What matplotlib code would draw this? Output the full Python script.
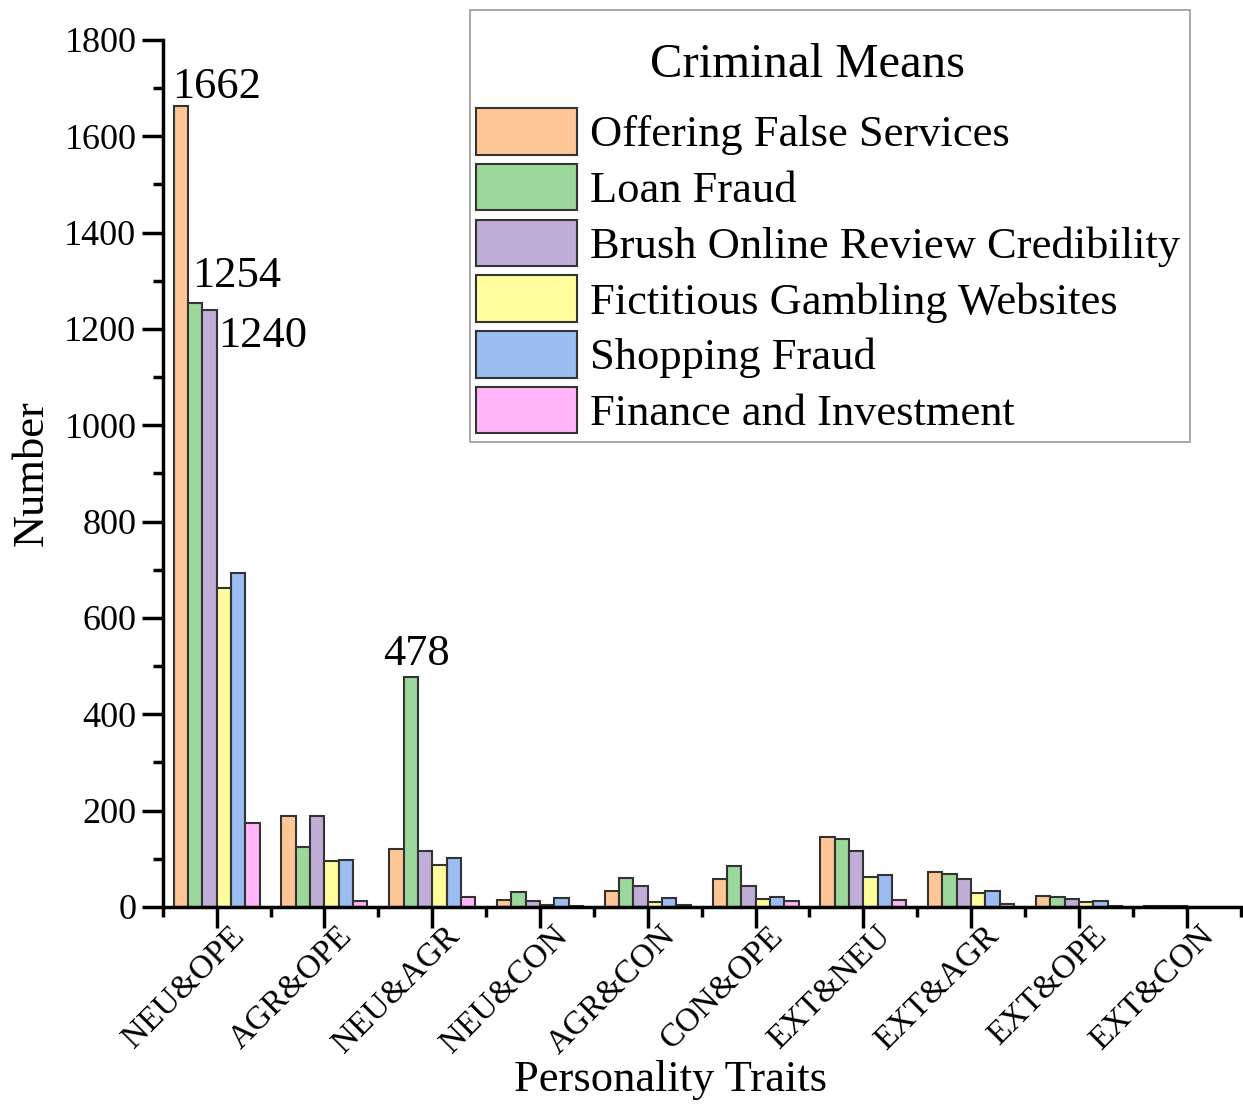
import matplotlib.pyplot as plt
from matplotlib.patches import Rectangle
from matplotlib.ticker import MultipleLocator
from matplotlib.transforms import ScaledTranslation
import numpy as np

plt.rcParams['font.family'] = ['Liberation Serif', 'DejaVu Serif']

traits = ['NEU&OPE', 'AGR&OPE', 'NEU&AGR', 'NEU&CON', 'AGR&CON',
          'CON&OPE', 'EXT&NEU', 'EXT&AGR', 'EXT&OPE', 'EXT&CON']
means = ['Offering False Services', 'Loan Fraud', 'Brush Online Review Credibility',
         'Fictitious Gambling Websites', 'Shopping Fraud', 'Finance and Investment']
colors = ['#FFC796', '#9CD89C', '#C0AED8', '#FFFD9C', '#9CBDF2', '#FFB5F8']

offering = [1662, 189, 120, 14, 33, 57, 145, 72, 22, 1]
loan = [1254, 125, 478, 32, 61, 84, 142, 68, 21, 1]
brush = [1240, 189, 116, 13, 44, 44, 116, 57, 17, 1]
gambling = [662, 96, 87, 3, 11, 17, 62, 28, 10, 0]
shopping = [693, 98, 101, 18, 19, 21, 66, 33, 12, 0]
finance = [175, 13, 21, 2, 5, 12, 14, 6, 2, 0]
series = [offering, loan, brush, gambling, shopping, finance]

W, H = 1243, 1106
fig = plt.figure(figsize=(W / 100, H / 100), dpi=100)
ax = fig.add_axes([0.131, 0.180, 0.867, 0.784])

x = np.arange(len(traits))
w = 0.133
for i, vals in enumerate(series):
    ax.bar(x + (i - 2.5) * w, vals, width=w, color=colors[i], edgecolor='#333333',
           linewidth=1.5, label=means[i], zorder=2)

# value labels on the tallest bars
ax.text(x[0] - 0.415, 1680, str(offering[0]), fontsize=32, ha='left', va='baseline')
ax.text(x[0] - 0.23, 1287, str(loan[0]), fontsize=32, ha='left', va='baseline')
ax.text(x[0] + 0.01, 1163, str(brush[0]), fontsize=32, ha='left', va='baseline')
ax.text(x[2] - 0.15, 502, str(loan[2]), fontsize=32, ha='center', va='baseline')

ax.set_xlim(-0.5, 9.5)
ax.set_ylim(0, 1800)
ax.yaxis.set_major_locator(MultipleLocator(200))
ax.yaxis.set_minor_locator(MultipleLocator(100))
ax.set_xticks(x)
ax.set_xticks(np.arange(-0.5, 10, 1.0), minor=True)
ax.set_xticklabels(traits, rotation=45, ha='right', va='top', rotation_mode='anchor')

for side in ['top', 'right']:
    ax.spines[side].set_visible(False)
for side in ['left', 'bottom']:
    ax.spines[side].set_linewidth(2.5)

ax.tick_params(axis='both', which='major', direction='out', length=15, width=2.5)
ax.tick_params(axis='both', which='minor', direction='out', length=7, width=2.5)
ax.tick_params(axis='y', which='major', labelsize=26, pad=4)
ax.tick_params(axis='x', which='major', labelsize=24, pad=2)
shift = ScaledTranslation(12 / 100, 10 / 100, fig.dpi_scale_trans)
for lbl in ax.get_xticklabels():
    lbl.set_transform(lbl.get_transform() + shift)

ax.set_ylabel('Number', fontsize=32)
ax.yaxis.label.set_va('center')
ax.yaxis.set_label_coords(-0.122, 0.5)
ax.set_xlabel('Personality Traits', fontsize=32)
ax.xaxis.label.set_va('center')
ax.xaxis.set_label_coords(0.471, -0.2)

# legend box with its title
ax.add_patch(Rectangle((470 / W, 1 - 442 / H), 720 / W, 432 / H, transform=fig.transFigure,
                       facecolor='white', edgecolor='#999999', linewidth=1.2,
                       clip_on=False, zorder=3))
ax.text(808 / W, 1 - 65 / H, 'Criminal Means', fontsize=35, ha='center', va='center',
        transform=fig.transFigure, zorder=4)
leg = ax.legend(loc='upper left', bbox_to_anchor=(476 / W, 1 - 108 / H),
                bbox_transform=fig.transFigure, fontsize=32, frameon=False,
                handlelength=2.27, handleheight=1.24, handletextpad=0.3,
                labelspacing=0.19, borderpad=0, borderaxespad=0)
leg.set_zorder(5)

fig.savefig('out.png', dpi=100)
